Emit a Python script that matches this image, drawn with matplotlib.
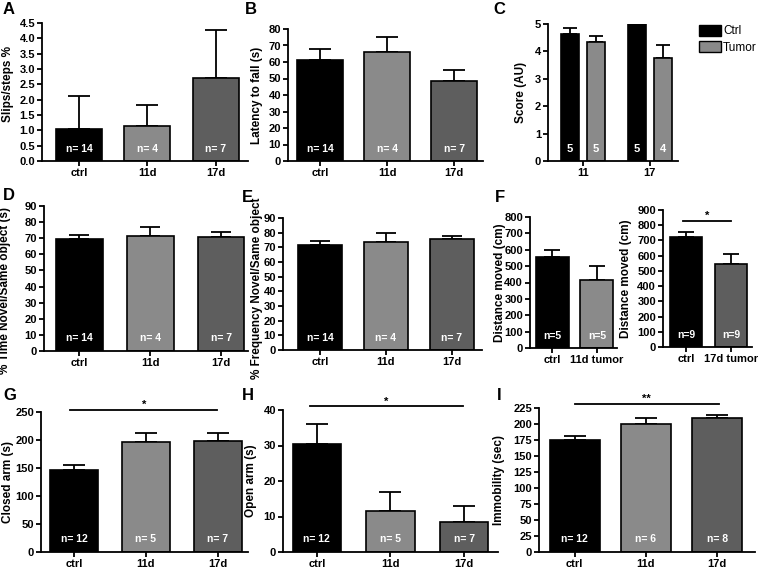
import matplotlib
matplotlib.use("Agg")
import matplotlib.pyplot as plt
from matplotlib.patches import Patch

plt.rcParams['font.family'] = ['Liberation Sans', 'DejaVu Sans']

# ---------------- data ----------------
groups3 = ['ctrl', '11d', '17d']

A_mean = [1.05, 1.15, 2.70]
A_top = [2.12, 1.82, 4.27]
A_n = [14, 4, 7]

B_mean = [61.0, 66.0, 48.5]
B_top = [68.0, 75.0, 55.0]
B_n = [14, 4, 7]

C_groups = ['11', '17']
C_ctrl = [4.62, 5.0]
C_ctrl_top = [4.85, 5.0]
C_tumor = [4.35, 3.75]
C_tumor_top = [4.55, 4.25]
C_n_ctrl = [5, 5]
C_n_tumor = [5, 4]

D_mean = [69.5, 71.5, 71.0]
D_top = [72.0, 77.0, 74.0]
D_n = [14, 4, 7]

E_mean = [71.5, 73.5, 75.5]
E_top = [74.5, 80.0, 78.0]
E_n = [14, 4, 7]

F1_groups = ['ctrl', '11d tumor']
F1_mean = [555, 415]
F1_top = [598, 500]
F1_n = [5, 5]

F2_groups = ['ctrl', '17d tumor']
F2_mean = [725, 548]
F2_top = [755, 608]
F2_n = [9, 9]

G_mean = [147, 196, 199]
G_top = [155, 213, 212]
G_n = [12, 5, 7]

H_mean = [30.5, 11.5, 8.5]
H_top = [36.0, 17.0, 13.0]
H_n = [12, 5, 7]

I_mean = [175, 200, 209]
I_top = [181, 210, 214]
I_n = [12, 6, 8]

# ---------------- style ----------------
W, H = 762, 571
BLACK = '#000000'
LIGHT = '#8a8a8a'
DARK = '#5e5e5e'
TICK_FS = 8
LAB_FS = 8.5

fig = plt.figure(figsize=(W / 100, H / 100), dpi=100)


def make_ax(l, t, r, b):
    ax = fig.add_axes([l / W, 1 - b / H, (r - l) / W, (b - t) / H])
    for s in ('top', 'right'):
        ax.spines[s].set_visible(False)
    for s in ('left', 'bottom'):
        ax.spines[s].set_linewidth(1.3)
    ax.tick_params(axis='both', width=1.3, length=3.5, labelsize=TICK_FS, pad=1.5)
    return ax


def bold_ticks(ax):
    for lab in ax.get_yticklabels() + ax.get_xticklabels():
        lab.set_fontweight('bold')


def place_ylabel(ax, ylabel, x_px, y_px=None):
    ax.set_ylabel(ylabel, fontsize=LAB_FS, fontweight='bold')
    pos = ax.get_position()
    yc = pos.y0 + pos.height / 2 if y_px is None else 1 - y_px / H
    ax.yaxis.set_label_coords(x_px / W, yc, transform=fig.transFigure)


def bar_panel(ax, labels, means, tops, ns, colors, width, xlim, ylim, yticks,
              ylabel, ylab_x, fmt=None, capsize=7, prefix='n= ', ylab_y=None):
    x = list(range(len(labels)))
    errs = [t - m for t, m in zip(tops, means)]
    ax.bar(x, means, width=width, color=colors, edgecolor='black', linewidth=1.2, zorder=2)
    ax.errorbar(x, means, yerr=[[0] * len(errs), errs], fmt='none', ecolor='black',
                elinewidth=1.3, capsize=capsize, capthick=1.3, zorder=1)
    ax.set_xlim(*xlim)
    ax.set_ylim(*ylim)
    ax.set_yticks(yticks)
    if fmt:
        ax.set_yticklabels([fmt % v for v in yticks])
    ax.set_xticks(x)
    ax.set_xticklabels(labels)
    bold_ticks(ax)
    place_ylabel(ax, ylabel, ylab_x, ylab_y)
    for xi, n in zip(x, ns):
        ax.text(xi, 0.09, f'{prefix}{n}', transform=ax.get_xaxis_transform(), color='white',
                fontsize=7.5, fontweight='bold', ha='center', va='center', zorder=3)


def sig(ax, x0, x1, y, txt):
    ax.plot([x0, x1], [y, y], color='black', lw=1.3, clip_on=False)
    ax.text((x0 + x1) / 2, y, txt, ha='center', va='bottom', fontsize=8,
            fontweight='bold', clip_on=False)


def letter(x, y, s):
    fig.text(x / W, 1 - y / H, s, fontsize=12, fontweight='bold', ha='left', va='top')


c3 = [BLACK, LIGHT, DARK]

# A
axA = make_ax(42, 23, 248, 161)
bar_panel(axA, groups3, A_mean, A_top, A_n, c3, 0.67, (-0.54, 2.47), (0, 4.5),
          [0, 0.5, 1, 1.5, 2, 2.5, 3, 3.5, 4, 4.5], 'Slips/steps %', 14, fmt='%.1f', capsize=8,
          ylab_y=84)
letter(3, 2, 'A')

# B
axB = make_ax(288, 29, 483, 161)
bar_panel(axB, groups3, B_mean, B_top, B_n, c3, 0.69, (-0.48, 2.43), (0, 80),
          list(range(0, 81, 10)), 'Latency to fall (s)', 263, capsize=8)
letter(245, 2, 'B')

# C
axC = make_ax(548, 24, 678, 161)
xc = [0, 1]
off = 0.195
bw = 0.27
axC.bar([v - off for v in xc], C_ctrl, width=bw, color=BLACK, edgecolor='black', lw=1.2, zorder=2)
axC.bar([v + off for v in xc], C_tumor, width=bw, color=LIGHT, edgecolor='black', lw=1.2, zorder=2)
axC.errorbar([v - off for v in xc], C_ctrl, yerr=[[0, 0], [t - m for t, m in zip(C_ctrl_top, C_ctrl)]],
             fmt='none', ecolor='black', elinewidth=1.3, capsize=5, capthick=1.3, zorder=1)
axC.errorbar([v + off for v in xc], C_tumor, yerr=[[0, 0], [t - m for t, m in zip(C_tumor_top, C_tumor)]],
             fmt='none', ecolor='black', elinewidth=1.3, capsize=5, capthick=1.3, zorder=1)
axC.set_xlim(-0.52, 1.42)
axC.set_ylim(0, 5)
axC.set_yticks(range(0, 6))
axC.set_xticks(xc)
axC.set_xticklabels(C_groups)
bold_ticks(axC)
place_ylabel(axC, 'Score (AU)', 527)
for v, n in zip(xc, C_n_ctrl):
    axC.text(v - off, 0.09, str(n), transform=axC.get_xaxis_transform(), color='white',
             fontsize=8, fontweight='bold', ha='center', va='center', zorder=3)
for v, n in zip(xc, C_n_tumor):
    axC.text(v + off, 0.09, str(n), transform=axC.get_xaxis_transform(), color='white',
             fontsize=8, fontweight='bold', ha='center', va='center', zorder=3)
handles = [Patch(facecolor=BLACK, edgecolor='black'), Patch(facecolor=LIGHT, edgecolor='black')]
fig.legend(handles, ['Ctrl', 'Tumor'], loc='upper left', bbox_to_anchor=(694 / W, 1 - 20 / H),
           frameon=False, fontsize=8.5, handlelength=1.9, handleheight=1.1, handletextpad=0.15,
           labelspacing=0.3, borderaxespad=0)
letter(493, 2, 'C')

# D
axD = make_ax(44, 206, 248, 351)
bar_panel(axD, groups3, D_mean, D_top, D_n, c3, 0.66, (-0.5, 2.38), (0, 90),
          list(range(0, 91, 10)), '% Time Novel/Same object (s)', 11, capsize=7, ylab_y=290)
letter(3, 188, 'D')

# E
axE = make_ax(283, 218, 482, 350)
bar_panel(axE, groups3, E_mean, E_top, E_n, c3, 0.67, (-0.56, 2.46), (0, 90),
          list(range(0, 91, 10)), '% Frequency Novel/Same object', 263, capsize=7, ylab_y=288)
letter(242, 190, 'E')

# F left
axF1 = make_ax(530, 217, 617, 348)
bar_panel(axF1, F1_groups, F1_mean, F1_top, F1_n, [BLACK, LIGHT], 0.74, (-0.5, 1.45), (0, 800),
          list(range(0, 801, 100)), 'Distance moved (cm)', 506, capsize=6, prefix='n=')
letter(495, 190, 'F')

# F right
axF2 = make_ax(663, 210, 752, 347)
bar_panel(axF2, F2_groups, F2_mean, F2_top, F2_n, [BLACK, DARK], 0.70, (-0.5, 1.45), (0, 900),
          list(range(0, 901, 100)), 'Distance moved (cm)', 632, capsize=6, prefix='n=')
sig(axF2, -0.07, 0.99, 830, '*')

# G
axG = make_ax(41, 412, 248, 552)
bar_panel(axG, groups3, G_mean, G_top, G_n, c3, 0.66, (-0.46, 2.42), (0, 250),
          list(range(0, 251, 50)), 'Closed arm (s)', 14, capsize=8)
sig(axG, -0.05, 1.99, 254, '*')
letter(3, 388, 'G')

# H
axH = make_ax(283, 410, 498, 552)
bar_panel(axH, groups3, H_mean, H_top, H_n, c3, 0.66, (-0.46, 2.46), (0, 40),
          list(range(0, 41, 10)), 'Open arm (s)', 257, capsize=8)
sig(axH, -0.1, 1.98, 41.0, '*')
letter(242, 388, 'H')

# I
axI = make_ax(539, 408, 755, 552)
bar_panel(axI, groups3, I_mean, I_top, I_n, c3, 0.70, (-0.5, 2.53), (0, 225),
          [0, 25, 50, 75, 100, 125, 150, 175, 200, 225], 'Immobility (sec)', 505, capsize=8)
sig(axI, 0.0, 2.02, 232, '**')
letter(497, 388, 'I')

fig.savefig('out.png', dpi=100)
